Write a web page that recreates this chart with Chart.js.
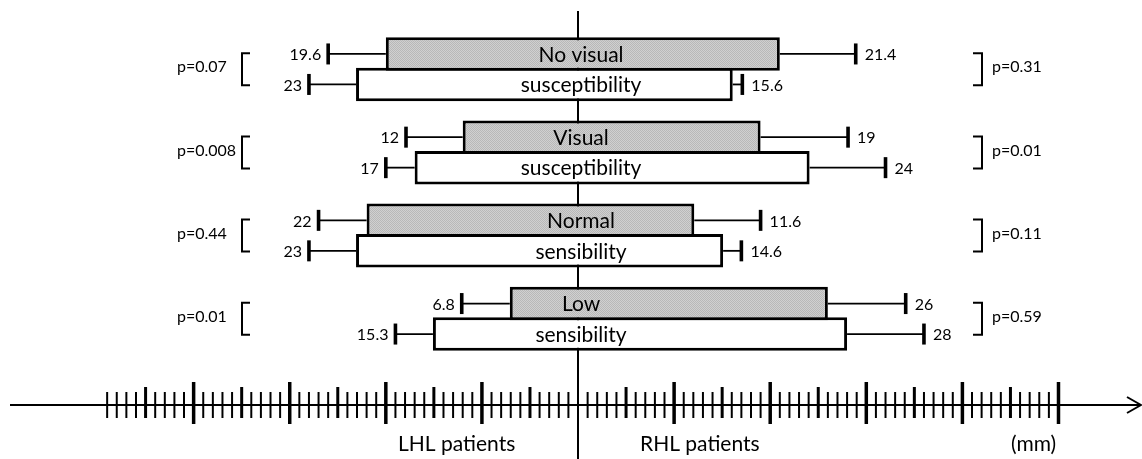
<!DOCTYPE html>
<html>
<head>
<meta charset="utf-8">
<script src="https://cdn.jsdelivr.net/npm/chart.js@4.4.1/dist/chart.umd.min.js"></script>
<style>
html,body{margin:0;padding:0;background:#fff;}
#wrap{width:1142px;height:459px;position:relative;}
</style>
</head>
<body>
<div id="wrap"><canvas id="c" width="1142" height="459"></canvas></div>
<script>
// ---- data (mm) ----
const categories = ['No visual susceptibility', 'Visual susceptibility', 'Normal sensibility', 'Low sensibility'];
const grayText  = ['No visual', 'Visual', 'Normal', 'Low'];
const whiteText = ['susceptibility', 'susceptibility', 'sensibility', 'sensibility'];

// box extents as drawn (LHL = left side, RHL = right side)
const grayLHL  = [20.0, 12.0, 22.0, 7.1];
const grayRHL  = [21.0, 19.0, 12.1, 26.0];
const whiteLHL = [23.1, 17.0, 23.1, 15.1];
const whiteRHL = [16.1, 24.1, 15.1, 28.0];

// whisker ends
const grayLHLWhisker  = [26.0, 17.9, 27.0, 12.1];
const grayRHLWhisker  = [28.9, 28.1, 19.0, 34.1];
const whiteLHLWhisker = [28.0, 20.0, 28.0, 19.0];
const whiteRHLWhisker = [17.1, 32.0, 17.0, 36.0];

// printed values
const grayLHLLabel  = ['19.6', '12', '22', '6.8'];
const grayRHLLabel  = ['21.4', '19', '11.6', '26'];
const whiteLHLLabel = ['23', '17', '23', '15.3'];
const whiteRHLLabel = ['15.6', '24', '14.6', '28'];

const pLeft  = ['p=0.07', 'p=0.008', 'p=0.44', 'p=0.01'];
const pRight = ['p=0.31', 'p=0.01', 'p=0.11', 'p=0.59'];

const axisLabels = ['LHL patients', 'RHL patients', '(mm)'];
const axisTickMin = -49, axisTickMax = 50;
const xMin = -60.15, xMax = 58.69;

// ---- gray stipple pattern ----
const ctx0 = document.getElementById('c').getContext('2d');
const grayFill = ctx0.createPattern((function(){
  const p = document.createElement('canvas'); p.width = 2; p.height = 2;
  const g = p.getContext('2d');
  g.fillStyle = '#d0d0d0'; g.fillRect(0, 0, 2, 2);
  g.fillStyle = '#b8b8b8'; g.fillRect(0, 0, 1, 1); g.fillRect(1, 1, 1, 1);
  return p;
})(), 'repeat');

const FONT = 'Lato, "Open Sans", sans-serif';

const decor = {
  id: 'decor',
  beforeDatasetsDraw(chart) {
    const c = chart.ctx, xs = chart.scales.x;
    const x0 = Math.round(xs.getPixelForValue(0));
    c.save();
    c.strokeStyle = '#000'; c.lineWidth = 2;
    c.beginPath(); c.moveTo(x0, 11); c.lineTo(x0, 459); c.stroke();
    c.restore();
  },
  afterDatasetsDraw(chart) {
    const c = chart.ctx, xs = chart.scales.x;
    const x0 = xs.getPixelForValue(0);
    const sets = [
      {meta: chart.getDatasetMeta(0), box: [grayLHL, grayRHL], wh: [grayLHLWhisker, grayRHLWhisker], lab: [grayLHLLabel, grayRHLLabel], txt: grayText},
      {meta: chart.getDatasetMeta(1), box: [whiteLHL, whiteRHL], wh: [whiteLHLWhisker, whiteRHLWhisker], lab: [whiteLHLLabel, whiteRHLLabel], txt: whiteText}
    ];
    c.save();
    c.fillStyle = '#000'; c.strokeStyle = '#000';
    sets.forEach(s => {
      s.meta.data.forEach((el, i) => {
        const y = el.y;
        [-1, 1].forEach((sgn, k) => {
          const bx = xs.getPixelForValue(sgn * s.box[k][i]);
          const wx = xs.getPixelForValue(sgn * s.wh[k][i]);
          c.lineWidth = 1.8;
          c.beginPath(); c.moveTo(bx, y); c.lineTo(wx, y); c.stroke();
          c.fillRect(wx - 1.8, y - 10.5, 3.6, 21);
          c.font = '16px ' + FONT;
          c.textBaseline = 'middle';
          if (sgn < 0) { c.textAlign = 'right'; c.fillText(s.lab[k][i], wx - 7, y + 1); }
          else { c.textAlign = 'left'; c.fillText(s.lab[k][i], wx + 9, y + 1); }
        });
        c.font = '21px ' + FONT;
        c.textAlign = 'center'; c.textBaseline = 'middle';
        c.fillText(s.txt[i], x0 + 3, y + 1);
      });
    });
    const m0 = chart.getDatasetMeta(0), m1 = chart.getDatasetMeta(1);
    c.lineWidth = 2;
    m0.data.forEach((el, i) => {
      const yc = (el.y + m1.data[i].y) / 2;
      c.font = '16px ' + FONT; c.textBaseline = 'middle';
      c.textAlign = 'left';
      c.fillText(pLeft[i], 177, yc - 2);
      c.fillText(pRight[i], 992, yc - 2);
      const t = yc - 16, b = yc + 16;
      c.beginPath();
      c.moveTo(250, t); c.lineTo(242, t); c.lineTo(242, b); c.lineTo(250, b);
      c.stroke();
      c.beginPath();
      c.moveTo(973, t); c.lineTo(982, t); c.lineTo(982, b); c.lineTo(973, b);
      c.stroke();
    });
    const ay = 405;
    c.lineWidth = 2;
    c.beginPath(); c.moveTo(10, ay); c.lineTo(1140, ay); c.stroke();
    c.beginPath(); c.moveTo(1127, ay - 8); c.lineTo(1141, ay); c.lineTo(1127, ay + 8); c.stroke();
    for (let v = axisTickMin; v <= axisTickMax; v++) {
      if (v === 0) continue;
      const px = xs.getPixelForValue(v);
      if (v % 10 === 0) { c.lineWidth = 3.5; c.beginPath(); c.moveTo(px, 382); c.lineTo(px, 424); c.stroke(); }
      else if (v % 5 === 0) { c.lineWidth = 3; c.beginPath(); c.moveTo(px, 387); c.lineTo(px, 418); c.stroke(); }
      else { c.lineWidth = 2; c.beginPath(); c.moveTo(px, 392); c.lineTo(px, 418); c.stroke(); }
    }
    c.font = '21px ' + FONT; c.textBaseline = 'alphabetic'; c.textAlign = 'left';
    c.fillText(axisLabels[0], 398, 451);
    c.fillText(axisLabels[1], 640, 451);
    c.fillText(axisLabels[2], 1011, 451);
    c.restore();
  }
};

new Chart(document.getElementById('c'), {
  type: 'bar',
  data: {
    labels: categories,
    datasets: [
      {
        label: 'gray',
        data: grayLHL.map((l, i) => [-l, grayRHL[i]]),
        backgroundColor: grayFill,
        borderColor: '#000', borderWidth: 3, borderSkipped: false
      },
      {
        label: 'white',
        data: whiteLHL.map((l, i) => [-l, whiteRHL[i]]),
        backgroundColor: '#ffffff',
        borderColor: '#000', borderWidth: 3, borderSkipped: false
      }
    ]
  },
  options: {
    indexAxis: 'y',
    responsive: false,
    animation: false,
    devicePixelRatio: 1,
    categoryPercentage: 0.733,
    barPercentage: 1.098,
    layout: {padding: {top: 27.6, bottom: 98.6, left: 0, right: 0}},
    scales: {
      x: {type: 'linear', min: xMin, max: xMax, display: false},
      y: {type: 'category', display: false}
    },
    plugins: {legend: {display: false}, tooltip: {enabled: false}}
  },
  plugins: [decor]
});
</script>
</body>
</html>
